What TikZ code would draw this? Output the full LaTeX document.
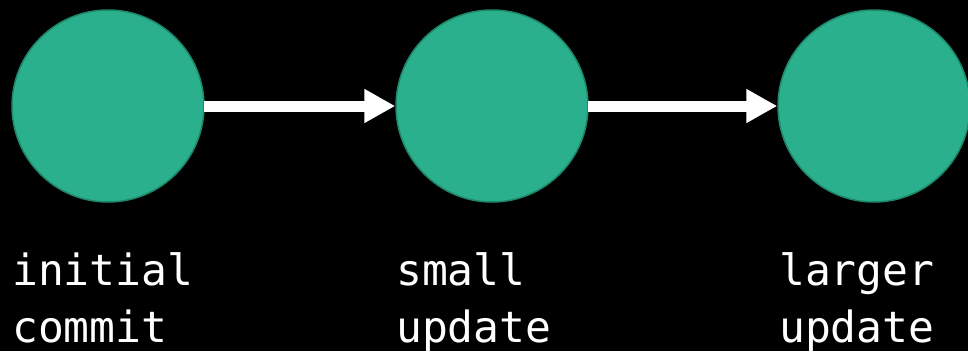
\documentclass[tikz,border=0pt]{standalone}
\usepackage{fontspec}
\setmonofont{DejaVu Sans Mono}
\usetikzlibrary{arrows.meta}
\definecolor{commitfill}{RGB}{43,176,142}
\definecolor{commitedge}{RGB}{30,135,106}
\tikzset{
  commit/.style={circle, fill=commitfill, draw=commitedge, line width=1.5pt, minimum size=192pt, inner sep=0pt},
  link/.style={draw=white, line width=11pt, -{Triangle[length=31pt,width=32pt]}, shorten <=-1pt},
  label/.style={anchor=north west, inner sep=0pt, align=left, text=white, font=\ttfamily\fontsize{43}{57}\selectfont}
}
\begin{document}
\begin{tikzpicture}[x=1pt,y=-1pt]
  \fill[black] (0,0) rectangle (968,351);
  \useasboundingbox (0,0) rectangle (968,351);
  \node[commit] (c1) at (108,106) {};
  \node[commit] (c2) at (492,106) {};
  \node[commit] (c3) at (874,106) {};
  \draw[link] (c1) -- (c2);
  \draw[link] (c2) -- (c3);
  \node[label] (l1) at (12,252) {initial\\commit};
  \node[label] (l2) at (396,252) {small\\update};
  \node[label] (l3) at (779,252) {larger\\update};
\end{tikzpicture}
\end{document}
